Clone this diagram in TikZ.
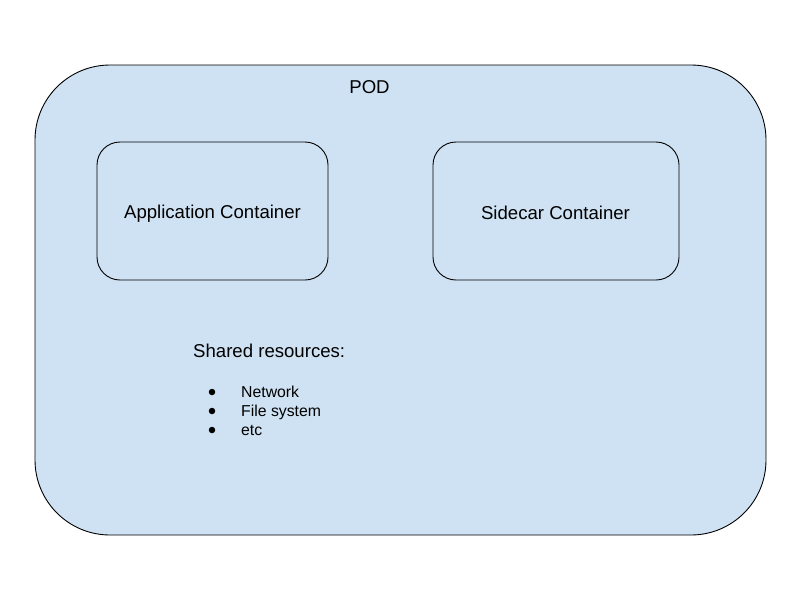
\documentclass[tikz,border=0pt]{standalone}
\usepackage{fontspec}
\setmainfont{Liberation Sans}
\definecolor{podblue}{HTML}{CFE2F3}
\tikzset{
  pod/.style={draw=black, line width=0.9pt, fill=podblue, rounded corners=75pt},
  cont/.style={draw=black, line width=0.9pt, fill=podblue, rounded corners=23pt},
  big/.style={inner sep=0pt, font=\fontsize{18.6}{22}\selectfont},
  small/.style={inner sep=0pt, font=\fontsize{15.8}{19}\selectfont, anchor=base west},
  bul/.style={circle, fill=black, inner sep=0pt, minimum size=6.5pt}
}
\begin{document}
\begin{tikzpicture}[x=1pt,y=-1pt]
\useasboundingbox (0,0) rectangle (800,600);
\draw[pod] (35,65) rectangle (766,535);
\node[big] (podlabel) at (369.5,87) {POD};
\draw[cont] (97,142) rectangle (328,280);
\node[big] (app) at (212.5,214) {Application Container};
\draw[cont] (433,142) rectangle (679,280);
\node[big] (side) at (555.5,212.5) {Sidecar Container};
\node[big, anchor=base west] (shared) at (193,357) {Shared resources:};
\node[bul] (b1) at (212,392) {};
\node[bul] (b2) at (212,411) {};
\node[bul] (b3) at (212,430) {};
\node[small] (t1) at (241,397) {Network};
\node[small] (t2) at (241,416) {File system};
\node[small] (t3) at (241,435) {etc};
\end{tikzpicture}
\end{document}
